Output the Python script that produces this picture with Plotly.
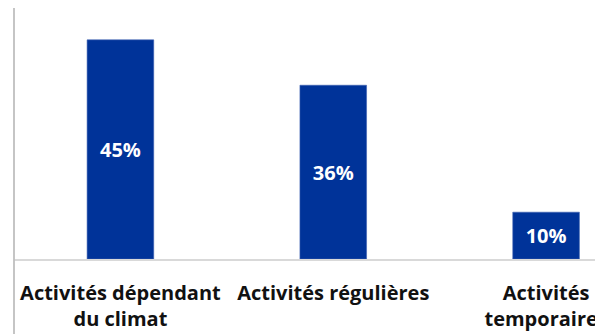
import plotly.graph_objects as go

categories = ["Activités dépendant<br>du climat", "Activités régulières", "Activités<br>temporaires"]
values = [45.4, 36.0, 9.7]
labels = ["45%", "36%", "10%"]

fig = go.Figure(go.Bar(
    x=categories,
    y=values,
    text=labels,
    textposition="inside",
    insidetextanchor="middle",
    textangle=0,
    textfont=dict(family="Open Sans", size=20, color="white", weight="bold"),
    marker=dict(color="#003399", line=dict(color="#3d5fb0", width=0.6)),
    width=0.313,
    hoverinfo="skip",
))

fig.update_layout(
    width=603, height=334,
    margin=dict(l=6, r=0, t=0, b=83, autoexpand=False),
    plot_bgcolor="white", paper_bgcolor="white",
    showlegend=False,
    uniformtext=dict(mode=False),
    xaxis=dict(
        type="category",
        range=[-0.5, 2.305],
        automargin=False,
        showline=True, linecolor="#d9d9d9", linewidth=1.5,
        showgrid=False, zeroline=False,
        ticks="", ticklabelstandoff=15,
        tickfont=dict(family="Open Sans", size=20, color="#111111", weight="bold"),
    ),
    yaxis=dict(
        range=[0, 52.0],
        automargin=False,
        showgrid=False, zeroline=False, showline=False,
        showticklabels=False, ticks="",
    ),
    shapes=[dict(
        type="line", xref="paper", yref="paper",
        x0=0, x1=0, y0=-0.4, y1=1.0,
        line=dict(color="#bfbfbf", width=1.8),
    )],
)

fig.write_html("out.html")
